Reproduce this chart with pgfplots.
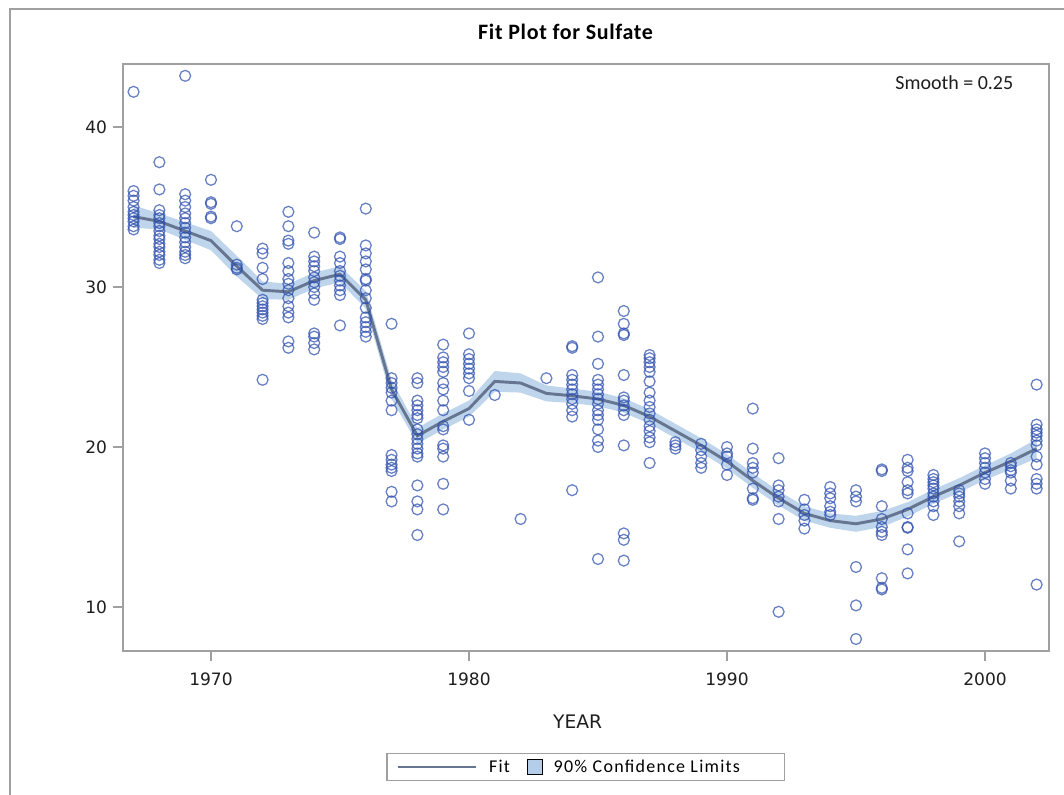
\documentclass[border=0pt]{standalone}
\usepackage{pgfplots}
\pgfplotsset{compat=1.18}
\usepackage{fontspec}
\setmainfont{DejaVu Sans}
\newfontfamily\carl{Carlito}
\newfontfamily\carlt{Carlito}[LetterSpace=3]
\newfontfamily\carll{Carlito}[LetterSpace=7]
\definecolor{mk}{RGB}{45,78,172}
\definecolor{fitc}{RGB}{102,118,145}
\definecolor{band}{RGB}{180,206,233}
\definecolor{axc}{RGB}{160,160,160}
\definecolor{txt}{RGB}{30,30,30}
\pgfplotsset{
  fitleg/.style={legend image code/.code={\draw[fitc, line width=2.2pt] (0pt,0pt) -- (59pt,0pt); \path (66pt,0pt);}},
  bandleg/.style={legend image code/.code={\draw[black, line width=0.8pt, fill=band] (0pt,-5.5pt) rectangle (11pt,5.5pt); \path (17pt,0pt);}},
}
\pgfplotstableread{
x y
1967 42.2
1967 36.0
1967 35.7
1967 35.4
1967 35.0
1967 34.7
1967 34.5
1967 34.3
1967 34.1
1967 33.8
1967 33.6
1968 37.8
1968 36.1
1968 34.8
1968 34.5
1968 34.3
1968 34.0
1968 33.8
1968 33.5
1968 33.2
1968 33.0
1968 32.7
1968 32.5
1968 32.2
1968 32.0
1968 31.7
1968 31.5
1969 43.2
1969 35.8
1969 35.4
1969 35.0
1969 34.6
1969 34.3
1969 34.0
1969 33.7
1969 33.4
1969 33.1
1969 32.8
1969 32.5
1969 32.2
1969 32.0
1969 31.8
1970 36.7
1970 35.3
1970 35.2
1970 34.4
1970 34.3
1971 33.8
1971 31.4
1971 31.2
1971 31.1
1972 32.4
1972 32.1
1972 31.2
1972 30.5
1972 29.2
1972 29.0
1972 28.8
1972 28.6
1972 28.4
1972 28.2
1972 28.0
1972 24.2
1973 34.7
1973 33.8
1973 32.9
1973 32.7
1973 31.5
1973 31.0
1973 30.5
1973 30.2
1973 29.8
1973 29.3
1973 28.8
1973 28.4
1973 28.1
1973 26.6
1973 26.2
1974 33.4
1974 31.9
1974 31.6
1974 31.3
1974 31.0
1974 30.6
1974 30.3
1974 30.0
1974 29.6
1974 29.2
1974 27.1
1974 26.9
1974 26.5
1974 26.1
1975 33.1
1975 33.0
1975 31.9
1975 31.5
1975 31.0
1975 30.7
1975 30.4
1975 30.1
1975 29.8
1975 29.5
1975 27.6
1976 34.9
1976 32.6
1976 32.1
1976 31.6
1976 31.1
1976 30.5
1976 30.4
1976 29.8
1976 29.3
1976 28.7
1976 28.1
1976 27.8
1976 27.5
1976 27.2
1976 26.9
1977 27.7
1977 24.3
1977 24.0
1977 23.7
1977 23.4
1977 22.9
1977 22.3
1977 19.5
1977 19.2
1977 18.9
1977 18.7
1977 18.5
1977 17.2
1977 16.6
1978 24.3
1978 24.0
1978 22.9
1978 22.6
1978 22.3
1978 22.0
1978 21.8
1978 21.1
1978 20.8
1978 20.5
1978 20.2
1978 19.9
1978 19.6
1978 19.4
1978 17.6
1978 16.6
1978 16.1
1978 14.5
1979 26.4
1979 25.6
1979 25.3
1979 25.0
1979 24.7
1979 24.0
1979 23.6
1979 22.9
1979 22.3
1979 21.3
1979 21.1
1979 20.1
1979 19.9
1979 19.4
1979 17.7
1979 16.1
1980 27.1
1980 25.8
1980 25.5
1980 25.2
1980 24.9
1980 24.6
1980 24.3
1980 23.5
1980 21.7
1981 23.25
1982 15.5
1983 24.3
1984 26.3
1984 26.2
1984 24.5
1984 24.2
1984 23.9
1984 23.6
1984 23.3
1984 23.0
1984 22.7
1984 22.3
1984 21.9
1984 17.3
1985 30.6
1985 26.9
1985 25.2
1985 24.2
1985 23.9
1985 23.6
1985 23.3
1985 23.0
1985 22.7
1985 22.3
1985 22.0
1985 21.7
1985 21.1
1985 20.4
1985 20.0
1985 13.0
1986 28.5
1986 27.7
1986 27.1
1986 27.0
1986 24.5
1986 23.1
1986 22.9
1986 22.6
1986 22.3
1986 22.0
1986 20.1
1986 14.6
1986 14.2
1986 12.9
1987 25.75
1987 25.55
1987 25.3
1987 25.0
1987 24.7
1987 24.1
1987 23.4
1987 22.9
1987 22.5
1987 22.1
1987 21.7
1987 21.3
1987 21.0
1987 20.6
1987 20.3
1987 19.0
1988 20.3
1988 20.1
1988 19.9
1989 20.2
1989 19.8
1989 19.4
1989 19.0
1989 18.7
1990 20.0
1990 19.6
1990 19.4
1990 18.9
1990 18.25
1991 22.4
1991 19.9
1991 19.0
1991 18.7
1991 18.4
1991 17.4
1991 16.8
1991 16.7
1992 19.3
1992 17.6
1992 17.3
1992 16.9
1992 16.6
1992 15.5
1992 9.7
1993 16.7
1993 16.1
1993 15.75
1993 15.4
1993 14.9
1994 17.5
1994 17.1
1994 16.8
1994 16.3
1994 15.95
1994 15.75
1995 17.3
1995 16.9
1995 16.6
1995 12.5
1995 10.1
1995 8.0
1996 18.6
1996 18.5
1996 16.3
1996 15.5
1996 15.0
1996 14.7
1996 14.5
1996 11.8
1996 11.2
1996 11.1
1997 19.2
1997 18.7
1997 18.5
1997 17.8
1997 17.3
1997 17.1
1997 15.85
1997 15.0
1997 14.95
1997 13.6
1997 12.1
1998 18.25
1998 18.0
1998 17.8
1998 17.6
1998 17.4
1998 17.1
1998 16.9
1998 16.6
1998 16.3
1998 15.75
1999 17.3
1999 17.1
1999 16.9
1999 16.6
1999 16.3
1999 15.85
1999 14.1
2000 19.6
2000 19.3
2000 19.0
2000 18.7
2000 18.4
2000 18.0
2000 17.7
2001 19.0
2001 18.8
2001 18.55
2001 18.4
2001 17.9
2001 17.4
2002 23.9
2002 21.4
2002 21.1
2002 20.9
2002 20.7
2002 20.4
2002 20.1
2002 19.4
2002 18.9
2002 18.0
2002 17.7
2002 17.4
2002 11.4
}\obs
\pgfplotstableread{
x fit
1967 34.4
1968 34.1
1969 33.5
1970 32.9
1971 31.3
1972 29.8
1973 29.7
1974 30.4
1975 30.8
1976 29.2
1977 23.6
1978 20.7
1979 21.6
1980 22.4
1981 24.1
1982 24.0
1983 23.35
1984 23.2
1985 23.0
1986 22.6
1987 21.9
1988 21.0
1989 20.1
1990 19.1
1991 17.9
1992 16.8
1993 15.85
1994 15.4
1995 15.2
1996 15.5
1997 16.1
1998 16.9
1999 17.6
2000 18.4
2001 19.1
2002 19.9
}\fitt
\begin{document}
\begin{tikzpicture}
\draw[axc, line width=1.1pt] (7.5pt,-20pt) -- (7.5pt,589.5pt) -- (830pt,589.5pt);
\begin{axis}[
  at={(92.25pt,108pt)}, anchor=south west,
  scale only axis, width=694.5pt, height=440.25pt,
  xmin=1966.59, xmax=2002.48, ymin=7.25, ymax=43.94,
  axis line style={draw=axc, line width=1.4pt},
  xtick={1970,1980,1990,2000}, ytick={10,20,30,40},
  tick style={draw=axc, line width=1.2pt},
  tick align=outside, major tick length=7.5pt,
  xtick pos=bottom, ytick pos=left,
  /pgf/number format/1000 sep={},
  /pgf/number format/assume math mode=true,
  ticklabel style={font=\fontsize{12.8}{14}\selectfont, text=txt},
  xticklabel style={yshift=-5pt},
  yticklabel style={xshift=-1pt},
  xlabel={YEAR},
  xlabel style={font=\fontsize{14}{16}\selectfont, text=txt, at={(rel axis cs:0.491,0)}, anchor=center, yshift=-53pt},
  title={\carlt\bfseries Fit Plot for Sulfate},
  title style={font=\fontsize{16.5}{18}\selectfont, at={(rel axis cs:0.478,1.0409)}, anchor=center},
  legend style={at={(rel axis cs:0.4995,-0.1976)}, anchor=center, draw=axc, line width=0.8pt,
    font=\carll\fontsize{13.5}{15}\selectfont, inner ysep=2.5pt, inner xsep=7pt,
    /tikz/every even column/.append style={column sep=11pt}},
  legend columns=2,
  legend cell align=left,
  clip=true,
]
% 90% confidence band (upper limits 1967->2002, then lower limits 2002->1967)
\addplot[fill=band, draw=none, fill opacity=0.85, forget plot] coordinates {
(1967,35.1) (1968,34.6) (1969,34.05) (1970,33.5) (1971,31.95) (1972,30.35) (1973,30.2) (1974,30.9) (1975,31.3) (1976,29.75)
(1977,24.2) (1978,21.2) (1979,22.1) (1980,22.9) (1981,24.75) (1982,24.6) (1983,23.85) (1984,23.65) (1985,23.45) (1986,23.05)
(1987,22.35) (1988,21.45) (1989,20.55) (1990,19.55) (1991,18.35) (1992,17.25) (1993,16.3) (1994,15.85) (1995,15.7) (1996,16.0)
(1997,16.55) (1998,17.35) (1999,18.05) (2000,18.85) (2001,19.6) (2002,20.5)
(2002,19.3) (2001,18.6) (2000,17.95) (1999,17.15) (1998,16.45) (1997,15.65) (1996,15.0) (1995,14.7) (1994,14.95) (1993,15.4)
(1992,16.35) (1991,17.45) (1990,18.65) (1989,19.65) (1988,20.55) (1987,21.45) (1986,22.15) (1985,22.55) (1984,22.75) (1983,22.85)
(1982,23.4) (1981,23.45) (1980,21.9) (1979,21.1) (1978,20.2) (1977,23.0) (1976,28.65) (1975,30.3) (1974,29.9) (1973,29.2)
(1972,29.25) (1971,30.65) (1970,32.3) (1969,32.95) (1968,33.6) (1967,33.7)
} -- cycle;
\addplot[only marks, mark=o, mark size=4.1pt, mk, mark options={line width=0.95pt, draw opacity=0.72}, forget plot] table[x=x, y=y] {\obs};
\addplot[fitc, line width=2.2pt, forget plot] table[x=x, y=fit] {\fitt};
\addlegendimage{fitleg}
\addlegendentry{Fit}
\addlegendimage{bandleg}
\addlegendentry{90\% Confidence Limits\hbox to 24pt{}}
\node[anchor=east, font=\carl\fontsize{15}{17}\selectfont, text=txt] at (rel axis cs:0.9665,0.9676) {Smooth = 0.25};
\end{axis}
\pgfresetboundingbox
\useasboundingbox (0pt,0pt) rectangle (798pt,596.25pt);
\end{tikzpicture}
\end{document}
